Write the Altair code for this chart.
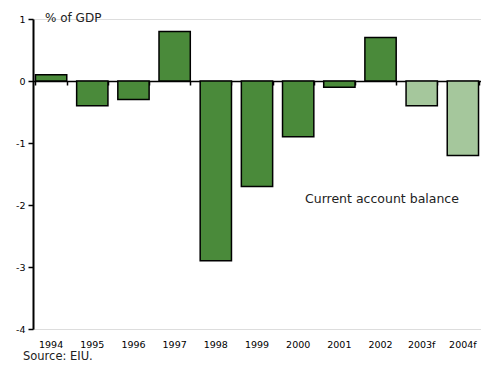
import altair as alt
import pandas as pd

years = ["1994", "1995", "1996", "1997", "1998", "1999", "2000", "2001", "2002", "2003f", "2004f"]
values = [0.1, -0.4, -0.3, 0.8, -2.9, -1.7, -0.9, -0.1, 0.7, -0.4, -1.2]
kind = ["Actual"] * 9 + ["Forecast"] * 2

df = pd.DataFrame({"year": years, "value": values, "kind": kind})

FONT = "DejaVu Sans"
W, H = 448, 310

xscale = alt.Scale(domain=years, paddingInner=0.24, paddingOuter=0.06)
yscale = alt.Scale(domain=[-4, 1], nice=False)

bars = alt.Chart(df).mark_bar(stroke="black", strokeWidth=1.5).encode(
    x=alt.X("year:N", scale=xscale, sort=years,
            axis=alt.Axis(title=None, domain=False, ticks=False, labelAngle=0,
                          labelFont=FONT, labelFontSize=9.5, labelColor="black",
                          labelPadding=10)),
    y=alt.Y("value:Q", scale=yscale,
            axis=alt.Axis(title=None, values=[1, 0, -1, -2, -3, -4],
                          labelExpr="'' + datum.value", grid=False,
                          domainColor="black", domainWidth=2, tickColor="black",
                          tickWidth=1.5, tickSize=5, labelFont=FONT, labelFontSize=9.5,
                          labelColor="black", labelPadding=3)),
    color=alt.Color("kind:N", scale=alt.Scale(domain=["Actual", "Forecast"],
                                               range=["#4a8a3a", "#a5c79c"]), legend=None),
)

zero_axis = alt.Chart(df).mark_bar(opacity=0).encode(
    x=alt.X("year:N", scale=xscale, sort=years,
            axis=alt.Axis(title=None, labels=False, domainColor="black", domainWidth=1.5,
                          tickColor="black", tickWidth=1.5, tickSize=4, tickBand="extent",
                          orient="bottom", offset=-(H * 4 / 5))),
    y=alt.Y("value:Q", scale=yscale),
)

labels_df = pd.DataFrame({"t": ["% of GDP", "Current account balance", "Source: EIU."],
                          "x": [12, 272, -10], "y": [-1, 180, 338],
                          "size": [12, 12.5, 11.5]})

texts = alt.Chart(labels_df).mark_text(align="left", baseline="middle", font=FONT,
                                       color="#222222").encode(
    x=alt.X("x:Q", scale=None), y=alt.Y("y:Q", scale=None), text="t:N",
    size=alt.Size("size:Q", scale=None, legend=None))

chart = alt.layer(bars, zero_axis, texts).resolve_axis(x="independent").properties(
    width=W, height=H, autosize="none",
    padding={"left": 25, "top": 11, "right": 0, "bottom": 33},
).configure_view(stroke=None).configure(background="white")

chart.save("out.html", embed_options={"renderer": "svg", "actions": False})
